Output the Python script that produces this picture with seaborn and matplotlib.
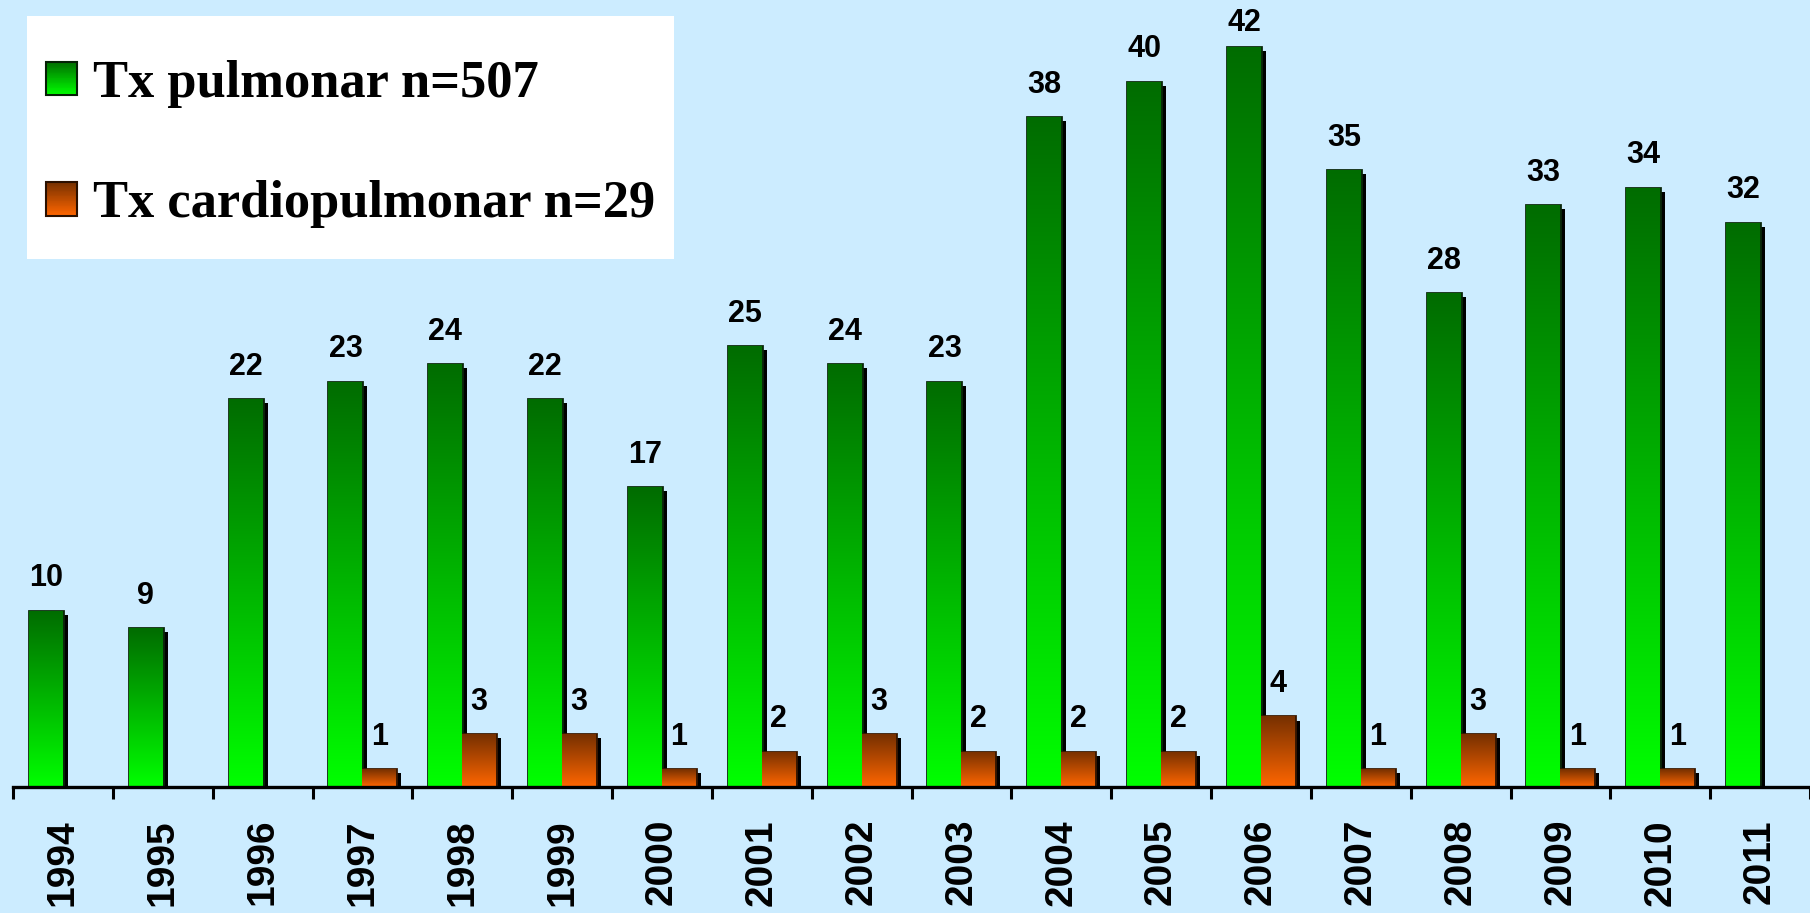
import numpy as np
import pandas as pd
import matplotlib
matplotlib.use("Agg")
import matplotlib.pyplot as plt
import seaborn as sns
import matplotlib.patheffects as pe
from matplotlib.colors import LinearSegmentedColormap
from matplotlib.legend_handler import HandlerBase
from matplotlib.patches import Rectangle
from matplotlib.path import Path

# Annual transplant counts
years = [str(y) for y in range(1994, 2012)]
pulmonar = [10, 9, 22, 23, 24, 22, 17, 25, 24, 23, 38, 40, 42, 35, 28, 33, 34, 32]
cardiopulmonar = [0, 0, 0, 1, 3, 3, 1, 2, 3, 2, 2, 2, 4, 1, 3, 1, 1, 0]
series_names = ["Tx pulmonar n=507", "Tx cardiopulmonar n=29"]

BG = "#CCECFF"
GREEN_TOP, GREEN_BOTTOM = "#006C00", "#00FF00"
ORANGE_TOP, ORANGE_BOTTOM = "#763000", "#FF6600"
EDGES = ["#0A280A", "#3A1800"]

df = pd.DataFrame({
    "Año": years * 2,
    "Tx": pulmonar + cardiopulmonar,
    "Serie": [series_names[0]] * len(years) + [series_names[1]] * len(years),
})

sns.set_theme(style="white")
plt.rcParams["font.family"] = ["Liberation Sans", "DejaVu Sans"]
plt.rcParams["text.color"] = "black"

W, H = 1810, 913
fig = plt.figure(figsize=(W / 100, H / 100), dpi=100, facecolor=BG)
ax = fig.add_axes([13 / W, 126 / H, 1797 / W, 787 / H])
ax.set_facecolor(BG)

sns.barplot(data=df, x="Año", y="Tx", hue="Serie", order=years,
            hue_order=series_names, palette=[GREEN_BOTTOM, ORANGE_BOTTOM],
            width=0.68, gap=0, saturation=1, legend=False, ax=ax)

cmaps = [LinearSegmentedColormap.from_list("verde", [GREEN_TOP, GREEN_BOTTOM]),
         LinearSegmentedColormap.from_list("naranja", [ORANGE_TOP, ORANGE_BOTTOM])]

# Vertical gradient fill for each bar, with a hard black drop shadow
shadow = [pe.SimplePatchShadow(offset=(3.6, -2.9), shadow_rgbFace="black", alpha=1.0),
          pe.Normal()]
grad = np.linspace(0, 1, 256)[:, None]
for cont, cmap, ec in zip(ax.containers, cmaps, EDGES):
    for bar in cont:
        h = bar.get_height()
        if not h or h <= 0:
            bar.set_visible(False)
            continue
        bar.set_edgecolor(ec)
        bar.set_linewidth(2.0)
        bar.set_path_effects(shadow)
        bar.set_zorder(2.2)
        x0, w = bar.get_x(), bar.get_width()
        im = ax.imshow(grad, cmap=cmap, extent=(x0, x0 + w, 0, h), origin="upper",
                       aspect="auto", interpolation="bilinear", zorder=2.3)
        im.set_clip_path(bar)

LABEL_PAD = 12.5
value_labels = []
for cont, vals in zip(ax.containers, [pulmonar, cardiopulmonar]):
    value_labels += ax.bar_label(cont, labels=[str(v) if v else "" for v in vals],
                                 padding=LABEL_PAD, fontsize=22, fontweight="bold",
                                 color="black")

ax.set_xlim(-0.5, len(years) - 0.5)
ax.set_ylim(0, 44.64)
ax.set_xlabel("")
ax.set_ylabel("")
ax.set_yticks([])

ax.set_xticks(np.arange(-0.5, len(years), 1.0), minor=True)
ax.tick_params(axis="x", which="major", length=0, pad=23, labelsize=28,
               labelrotation=90, labelcolor="black")
ax.tick_params(axis="x", which="minor", bottom=True, length=8.6, width=2.2,
               direction="out", color="black")
for lbl in ax.get_xticklabels():
    lbl.set_fontweight("bold")

for side in ["left", "top", "right"]:
    ax.spines[side].set_visible(False)
ax.spines["bottom"].set_linewidth(2.4)
ax.spines["bottom"].set_color("black")


class GradientSquare(HandlerBase):
    """Legend key drawn as a small square with the same vertical gradient."""

    def __init__(self, cmap, edge, n=40):
        super().__init__()
        self.cmap, self.edge, self.n = cmap, edge, n

    def create_artists(self, legend, orig_handle, xdescent, ydescent,
                       width, height, fontsize, trans):
        x0, y0 = -xdescent, -ydescent
        step = height / self.n
        arts = []
        for i in range(self.n):
            c = self.cmap(1 - (i + 0.5) / self.n)
            arts.append(Rectangle((x0, y0 + i * step), width, step * 1.05,
                                  facecolor=c, edgecolor="none", transform=trans))
        arts.append(Rectangle((x0, y0), width, height, facecolor="none",
                              edgecolor=self.edge, linewidth=1.5, transform=trans))
        return arts


def tall_box(x0, y0, width, height, mutation_size):
    """Square legend frame with extra room above and below the entries."""
    top = 0.47 * mutation_size
    bottom = 0.22 * mutation_size
    verts = [(x0, y0 - bottom), (x0 + width, y0 - bottom),
             (x0 + width, y0 + height + top), (x0, y0 + height + top),
             (x0, y0 - bottom)]
    return Path(verts, closed=True)


h1 = ax.containers[0][0]
h2 = ax.containers[1][3]
leg = ax.legend(handles=[h1, h2], labels=series_names,
                handler_map={h1: GradientSquare(cmaps[0], "#062006"),
                             h2: GradientSquare(cmaps[1], "#2A1000")},
                loc="upper left", bbox_to_anchor=(27 / W, 1 - 41 / H),
                bbox_transform=fig.transFigure, borderaxespad=0, borderpad=0.36,
                labelspacing=1.38, handlelength=0.6, handleheight=0.6,
                handletextpad=0.3, frameon=True, fancybox=False, framealpha=1,
                facecolor="white", edgecolor="none", labelcolor="black",
                prop={"family": ["Liberation Serif"], "weight": "bold", "size": 37.8})
leg.get_frame().set_linewidth(0)
leg.get_frame().set_boxstyle(tall_box)

# Keep value labels inside the figure area
fig.canvas.draw()
renderer = fig.canvas.get_renderer()
limit = H - 8
for ann in value_labels:
    if not ann.get_text():
        continue
    bb = ann.get_window_extent(renderer)
    if bb.y1 > limit:
        dx, dy = ann.xyann
        ann.xyann = (dx, dy - (bb.y1 - limit) * 72 / fig.dpi)

fig.savefig("out.png", dpi=100, facecolor=BG)
